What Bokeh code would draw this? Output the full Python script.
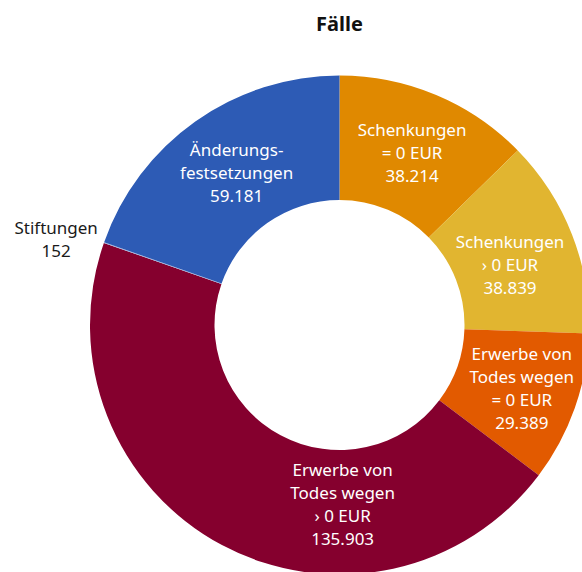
import math
from bokeh.plotting import figure
from bokeh.models import Range1d, ColumnDataSource
from bokeh.core.properties import value
from bokeh.embed import file_html
from bokeh.resources import INLINE

# ---- data ----
categories = ["Schenkungen\n= 0 EUR", "Schenkungen\n› 0 EUR",
              "Erwerbe von\nTodes wegen\n= 0 EUR", "Erwerbe von\nTodes wegen\n› 0 EUR",
              "Stiftungen", "Änderungs-\nfestsetzungen"]
values = [38214, 38839, 29389, 135903, 152, 59181]
value_labels = ["38.214", "38.839", "29.389", "135.903", "152", "59.181"]
colors = ["#e08900", "#e1b530", "#e25a00", "#85002e", "#9db4e0", "#2d5bb5"]
title_text = "Fälle"

# ---- layout ----
W, H = 582, 572
cx, cy_page = 339, 324.5
R_OUT, R_IN = 249.5, 125
def py(page_y):
    return H - page_y
cy = py(cy_page)

# label placement (clockwise degrees from top, radius in px); default = slice middle
label_override = {1: (70.4, 181), 2: (109.2, 193), 3: (179.0, 179),
                  4: (286.8, 296), 5: (326.0, 184)}
label_colors = ["white", "white", "white", "white", "#1a1a1a", "white"]

total = float(sum(values))
starts, ends, mids = [], [], []
acc = 0.0
for v in values:
    t0 = acc / total * 360.0
    acc += v
    t1 = acc / total * 360.0
    starts.append(math.radians(90 - t1))
    ends.append(math.radians(90 - t0))
    mids.append((t0 + t1) / 2)

src = ColumnDataSource(dict(start=starts, end=ends, color=colors))

p = figure(width=W, height=H, output_backend="svg", toolbar_location=None,
           x_range=Range1d(0, W), y_range=Range1d(0, H),
           min_border=0, outline_line_color=None)
p.axis.visible = False
p.grid.visible = False
p.background_fill_color = "white"
p.border_fill_color = "white"

p.annular_wedge(x=cx, y=cy, inner_radius=R_IN, outer_radius=R_OUT,
                start_angle="start", end_angle="end", color="color",
                line_color=None, direction="anticlock", source=src)

lx, ly, lt = [], [], []
for i, (c, vl) in enumerate(zip(categories, value_labels)):
    if i in label_override:
        th, r = label_override[i]
    else:
        th, r = mids[i], (R_IN + R_OUT) / 2
    lx.append(cx + r * math.sin(math.radians(th)))
    ly.append(cy + r * math.cos(math.radians(th)))
    lt.append(c + "\n" + vl)

lsrc = ColumnDataSource(dict(x=lx, y=ly, text=lt, color=label_colors))
p.text(x="x", y="y", text="text", source=lsrc, text_color="color",
       text_font=value("Noto Sans"), text_font_size="17px",
       text_align="center", text_baseline="middle", text_line_height=1.0)

p.text(x=[cx], y=[py(23)], text=[title_text], text_font=value("Noto Sans"),
       text_font_size="20px", text_font_style="bold", text_color="#111111",
       text_align="center", text_baseline="middle")

open("out.html", "w").write(file_html(p, INLINE))
